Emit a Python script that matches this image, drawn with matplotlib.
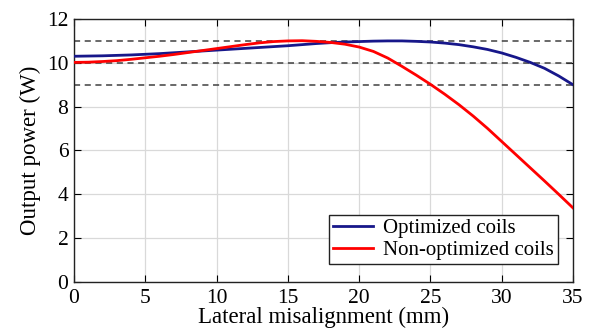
import matplotlib.pyplot as plt
import numpy as np

plt.rcParams['font.family'] = ['Liberation Serif', 'DejaVu Serif']

# lateral misalignment in mm, sampled every 1 mm
x = np.arange(0, 36)
optimized = [10.30, 10.31, 10.32, 10.34, 10.36, 10.39, 10.42, 10.46, 10.50, 10.54,
             10.58, 10.62, 10.66, 10.70, 10.74, 10.78, 10.83, 10.88, 10.92, 10.95,
             10.97, 10.99, 11.00, 11.00, 10.98, 10.95, 10.90, 10.83, 10.73, 10.61,
             10.45, 10.25, 10.02, 9.75, 9.40, 9.00]
non_optimized = [10.02, 10.03, 10.06, 10.10, 10.16, 10.23, 10.30, 10.38, 10.47, 10.56,
                 10.65, 10.74, 10.83, 10.91, 10.97, 11.00, 11.01, 10.98, 10.93, 10.85,
                 10.72, 10.52, 10.22, 9.84, 9.44, 9.02, 8.57, 8.09, 7.57, 7.01,
                 6.41, 5.81, 5.21, 4.61, 4.00, 3.38]
ref_levels = [9, 10, 11]
xticks = [0, 5, 10, 15, 20, 25, 30, 35]
yticks = [0, 2, 4, 6, 8, 10, 12]

fig = plt.figure(figsize=(5.93, 3.35), dpi=100)
ax = fig.add_axes([0.1248, 0.1582, 0.8415, 0.7851])

ax.grid(True, color='#d9d9d9', linewidth=0.9)
ax.set_axisbelow(True)
for lv in ref_levels:
    ax.axhline(lv, color='#404040', linestyle=(0, (4, 3)), linewidth=1.1, zorder=2)

ax.plot(x, optimized, color='#17178a', linewidth=2.0, label='Optimized coils', zorder=3)
ax.plot(x, non_optimized, color='#ff0000', linewidth=2.0, label='Non-optimized coils', zorder=4)

ax.set_xlim(0, 35)
ax.set_ylim(0, 12)
ax.set_xticks(xticks)
ax.set_yticks(yticks)
ax.tick_params(direction='in', top=True, right=True, length=5, labelsize=15.5, width=0.8)
ax.tick_params(axis='x', pad=5)
ax.tick_params(axis='y', pad=4)
for s in ax.spines.values():
    s.set_linewidth(1.0)
    s.set_color('#222222')

ax.set_xlabel('Lateral misalignment (mm)', fontsize=16.5, labelpad=-1)
ax.set_ylabel('Output power (W)', fontsize=16.5, labelpad=4)

leg = ax.legend(loc='lower right', bbox_to_anchor=(0.97, 0.068), borderaxespad=0,
                fontsize=15, fancybox=False, framealpha=1, edgecolor='#222222',
                handlelength=1.9, handletextpad=0.5, borderpad=0.2, labelspacing=0.1)
leg.get_frame().set_linewidth(1.0)

fig.savefig('out.png', dpi=100)
